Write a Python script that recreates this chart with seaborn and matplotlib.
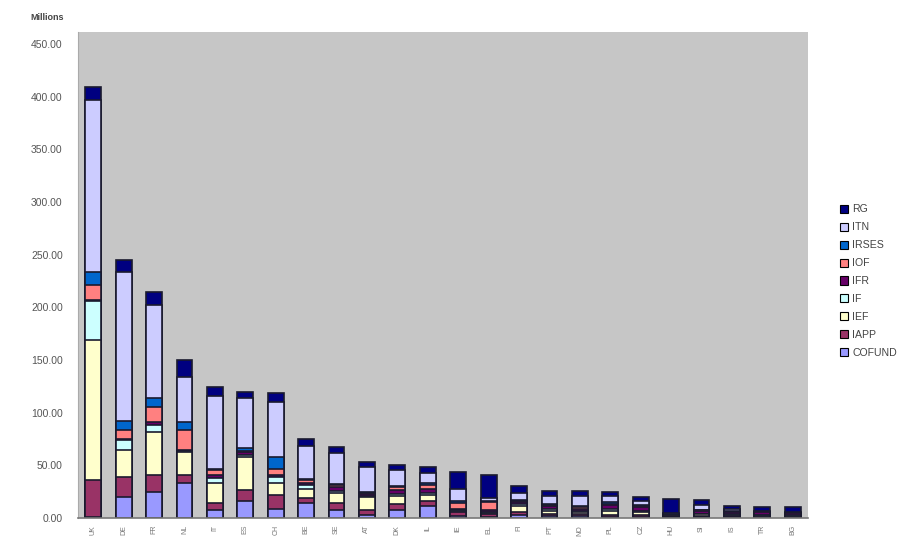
import matplotlib
matplotlib.use("Agg")
import matplotlib.pyplot as plt
import seaborn as sns
import numpy as np
import pandas as pd
from matplotlib.patches import Patch

# Country codes (x-axis categories)
countries = ["UK", "DE", "FR", "NL", "IT", "ES", "CH", "BE", "SE", "AT", "DK", "IL",
             "IE", "EL", "FI", "PT", "NO", "PL", "CZ", "HU", "SI", "IS", "TR", "BG"]

# Funding per action, in millions (stacked bottom to top)
COFUND = [1, 20, 25, 33, 8, 16, 9, 14, 8, 3, 8, 11, 2, 1, 3, 2, 2, 1, 1, 0.2, 0.5, 0.5, 0.3, 0.3]
IAPP = [35, 19, 16, 8, 6, 11, 13, 5, 6, 5, 5, 5, 4, 3, 3, 2, 2, 2, 2, 0.3, 1, 1, 1, 1]
IEF = [133, 26, 41, 22, 19, 31, 11, 9, 10, 12, 8, 6, 1, 1, 5, 3, 2, 4, 3, 0.5, 2, 1.5, 1, 1]
IF = [37, 9, 6, 1, 5, 2, 6, 3, 2, 1, 2, 2, 1, 1, 2, 2, 1, 2, 1, 0.3, 0.5, 0.5, 0.3, 0.3]
IFR = [1, 1, 3, 1, 3, 3, 2, 2, 3, 2, 4, 4, 1, 2, 2, 2, 2, 3, 3, 1, 3, 2, 3, 2]
IOF = [14, 9, 14, 19, 5, 1, 6, 3, 2, 1, 2, 3, 5, 7, 1, 1, 1, 1, 1, 0.5, 0.5, 0.5, 0.2, 0.2]
IRSES = [13, 8, 9, 7, 1, 2, 11, 1, 1, 1, 1, 2, 2, 1, 1, 1, 1, 2, 1, 1, 0.5, 0.3, 0.2, 0.2]
ITN = [163, 142, 88, 43, 69, 48, 52, 31, 30, 23, 16, 10, 12, 3, 7, 8, 10, 6, 4, 0.5, 4, 2, 1, 1]
RG = [12, 11, 13, 16, 8, 6, 9, 7, 5, 5, 4, 5, 16, 22, 6, 5, 5, 4, 4, 14, 5, 3, 3, 4]

series_names = ["COFUND", "IAPP", "IEF", "IF", "IFR", "IOF", "IRSES", "ITN", "RG"]
series_values = [COFUND, IAPP, IEF, IF, IFR, IOF, IRSES, ITN, RG]
series_colors = ["#9999FF", "#993366", "#FFFFCC", "#CCFFFF", "#660066",
                 "#FF8080", "#0066CC", "#CCCCFF", "#000080"]

y_ticks = [0, 50, 100, 150, 200, 250, 300, 350, 400, 450]

# Long table with the running top of each stacked segment
rows = []
running = np.zeros(len(countries))
for name, vals in zip(series_names, series_values):
    running = running + np.array(vals, dtype=float)
    for c, top in zip(countries, running):
        rows.append({"country": c, "series": name, "top": top})
df = pd.DataFrame(rows)

sns.set_style("white")
plt.rcParams["font.family"] = ["Liberation Sans", "DejaVu Sans"]

fig = plt.figure(figsize=(9.02, 5.42), dpi=100)
fig.patch.set_facecolor("white")
ax = fig.add_axes([78 / 902, 1 - 518 / 542, (808 - 78) / 902, (518 - 32) / 542])
ax.set_facecolor("#C6C6C6")

# Draw from the tallest cumulative layer down so each segment shows
for name, color in reversed(list(zip(series_names, series_colors))):
    sub = df[df["series"] == name]
    sns.barplot(data=sub, x="country", y="top", order=countries, color=color,
                edgecolor="#1a1a2e", linewidth=1.2, width=0.52, saturation=1,
                ax=ax)

ax.set_ylim(0, 461.5)
ax.set_xlim(-0.5, len(countries) - 0.5)
ax.set_yticks(y_ticks)
ax.set_yticklabels([f"{v:.2f}" for v in y_ticks], fontsize=7.5, color="#555555")
ax.set_xticks(range(len(countries)))
ax.set_xticklabels(countries, rotation=90, fontsize=5, color="#777777")
ax.set_xlabel("")
ax.set_ylabel("")
ax.tick_params(axis="y", length=3, pad=8, color="#888888")
ax.tick_params(axis="x", length=2, pad=3, color="#888888")
for side in ["top", "right"]:
    ax.spines[side].set_visible(False)
ax.spines["left"].set_color("#aaaaaa")
ax.spines["bottom"].set_color("#777777")
ax.spines["bottom"].set_linewidth(1.2)

fig.text(30 / 902, 1 - 18 / 542, "Millions", fontsize=6.5, fontweight="bold",
         color="#444444", va="center", ha="left")

handles = [Patch(facecolor=c, edgecolor="black", linewidth=0.8, label=n)
           for n, c in zip(series_names, series_colors)]
fig.legend(handles=handles[::-1], loc="upper left",
           bbox_to_anchor=(830 / 902, 1 - 195 / 542), frameon=False,
           fontsize=7.6, handlelength=0.8, handleheight=0.8, handletextpad=0.4,
           labelspacing=0.75, labelcolor="#444444")

fig.savefig("out.png", dpi=100, facecolor="white")
